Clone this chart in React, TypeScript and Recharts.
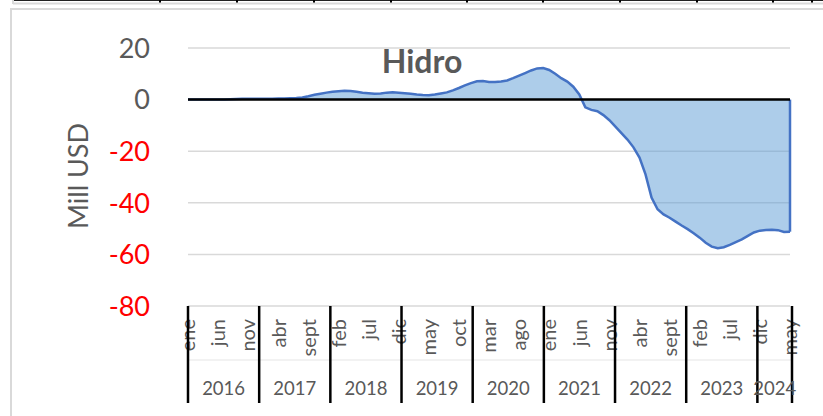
import { AreaChart, Area, XAxis, YAxis, CartesianGrid, ReferenceLine } from 'recharts'

const years = [2016, 2017, 2018, 2019, 2020, 2021, 2022, 2023, 2024]
const monthNames = ['ene', 'feb', 'mar', 'abr', 'may', 'jun', 'jul', 'ago', 'sept', 'oct', 'nov', 'dic']

// Mill USD, monthly from ene 2016 to may 2024
const hidro = [
  0, 0, 0, 0, 0, 0, 0, 0.1, 0.2, 0.3, 0.3, 0.3,
  0.3, 0.3, 0.3, 0.4, 0.4, 0.5, 0.6, 0.8, 1.3, 1.9, 2.3, 2.7,
  3.0, 3.2, 3.4, 3.3, 3.0, 2.7, 2.5, 2.3, 2.4, 2.7, 2.8, 2.7,
  2.5, 2.3, 2.0, 1.8, 1.7, 2.0, 2.4, 2.8, 3.6, 4.5, 5.5, 6.4,
  7.1, 7.2, 6.8, 6.8, 7.0, 7.4, 8.3, 9.3, 10.3, 11.3, 12.1, 12.2,
  11.5, 10.0, 8.3, 7.0, 5.0, 2.0, -3.0, -4.0, -4.5, -6.0, -8.0, -10.5,
  -13.0, -15.5, -18.5, -22.5, -29.0, -38.0, -42.5, -44.5, -45.8, -47.3, -48.8, -50.2,
  -51.8, -53.5, -55.5, -57.0, -57.6, -57.2, -56.3, -55.2, -54.2, -52.8, -51.5, -50.8,
  -50.5, -50.4, -50.6, -51.3, -51.2,
]

const yTicks = [20, 0, -20, -40, -60, -80]

const data = hidro.map((value, i) => {
  const year = years[0] + Math.floor(i / 12)
  const month = monthNames[i % 12]
  return { key: `${year}-${month}`, month, value }
})

const W = 823
const H = 416
const plotLeft = 188
const plotRight = 790
const plotBottom = 306
const gray = '#595959'
const font = 'Lato, sans-serif'

function MonthTick({ x, payload }: any) {
  const month = String(payload.value).split('-')[1]
  return (
    <text
      transform={`translate(${x},319) rotate(-90)`}
      textAnchor="end"
      dy="0.36em"
      fill={gray}
      fontSize={20}
      fontFamily={font}
    >
      {month}
    </text>
  )
}

function ValueTick({ y, payload }: any) {
  return (
    <text
      x={150}
      y={y}
      dy="0.36em"
      textAnchor="end"
      fill={payload.value < 0 ? '#FF0000' : gray}
      fontSize={27}
      fontFamily={font}
    >
      {payload.value}
    </text>
  )
}

function YearAxis() {
  const yearStep = (12 * (plotRight - plotLeft)) / 101.5
  const bounds = years.map((_, k) => plotLeft + k * yearStep)
  bounds.push(plotRight + 2)
  const topTicks = [160, 237, 314, 391, 467, 543, 620, 697, 773, 812]
  return (
    <svg width={W} height={H} style={{ position: 'absolute', left: 0, top: 0, pointerEvents: 'none' }}>
      {/* bottom of the chart above */}
      <line x1={14} y1={0.5} x2={W} y2={0.5} stroke="#222" strokeWidth={1} />
      {topTicks.map((tx) => (
        <line key={tx} x1={tx} y1={0} x2={tx} y2={3} stroke="#000" strokeWidth={2} />
      ))}
      <line x1={13} y1={3.5} x2={W} y2={3.5} stroke="#d9d9d9" strokeWidth={2} />
      <line x1={13} y1={0} x2={13} y2={4} stroke="#d9d9d9" strokeWidth={2} />
      {/* chart frame */}
      <rect x={11} y={9} width={840} height={430} fill="none" stroke="#d9d9d9" strokeWidth={2} />

      <text x={422} y={73} textAnchor="middle" fontWeight="bold" fontSize={32} fill={gray} fontFamily={font}>
        Hidro
      </text>
      <text transform="translate(88,176) rotate(-90)" textAnchor="middle" fontSize={27} fill={gray} fontFamily={font}>
        Mill USD
      </text>

      <line x1={plotLeft} y1={360} x2={plotRight + 2} y2={360} stroke="#eeeeee" strokeWidth={1.5} />
      {bounds.map((bx, k) => (
        <line key={k} x1={bx} y1={plotBottom} x2={bx} y2={403} stroke="#000" strokeWidth={2.5} />
      ))}
      {years.map((yr, k) => (
        <text
          key={yr}
          x={(bounds[k] + bounds[k + 1]) / 2}
          y={388}
          dy="0.36em"
          textAnchor="middle"
          fontSize={18.5}
          fill={gray}
          fontFamily={font}
        >
          {yr}
        </text>
      ))}
    </svg>
  )
}

export default function App() {
  const last = data[data.length - 1]
  return (
    <div style={{ position: 'absolute', left: 0, top: 0, width: W, height: H, background: '#fff', fontFamily: font }}>
      <AreaChart width={W} height={H} data={data} margin={{ top: 48, right: W - plotRight, left: 0, bottom: 0 }}>
        <CartesianGrid stroke="#d9d9d9" strokeWidth={1.5} vertical={false} />
        <XAxis
          dataKey="key"
          interval={4}
          tick={<MonthTick />}
          axisLine={false}
          tickLine={false}
          height={H - plotBottom}
        />
        <YAxis
          type="number"
          domain={[-80, 20]}
          ticks={yTicks}
          tick={<ValueTick />}
          axisLine={false}
          tickLine={false}
          width={plotLeft}
        />
        <Area
          type="linear"
          dataKey="value"
          baseValue={0}
          stroke="#4472C4"
          strokeWidth={2.5}
          fill="#5B9BD5"
          fillOpacity={0.5}
          isAnimationActive={false}
          dot={false}
          activeDot={false}
        />
        <ReferenceLine
          segment={[{ x: last.key, y: 0 }, { x: last.key, y: last.value }]}
          stroke="#4472C4"
          strokeWidth={2.5}
        />
        <ReferenceLine y={0} stroke="#000" strokeWidth={2.5} />
      </AreaChart>
      <YearAxis />
    </div>
  )
}
